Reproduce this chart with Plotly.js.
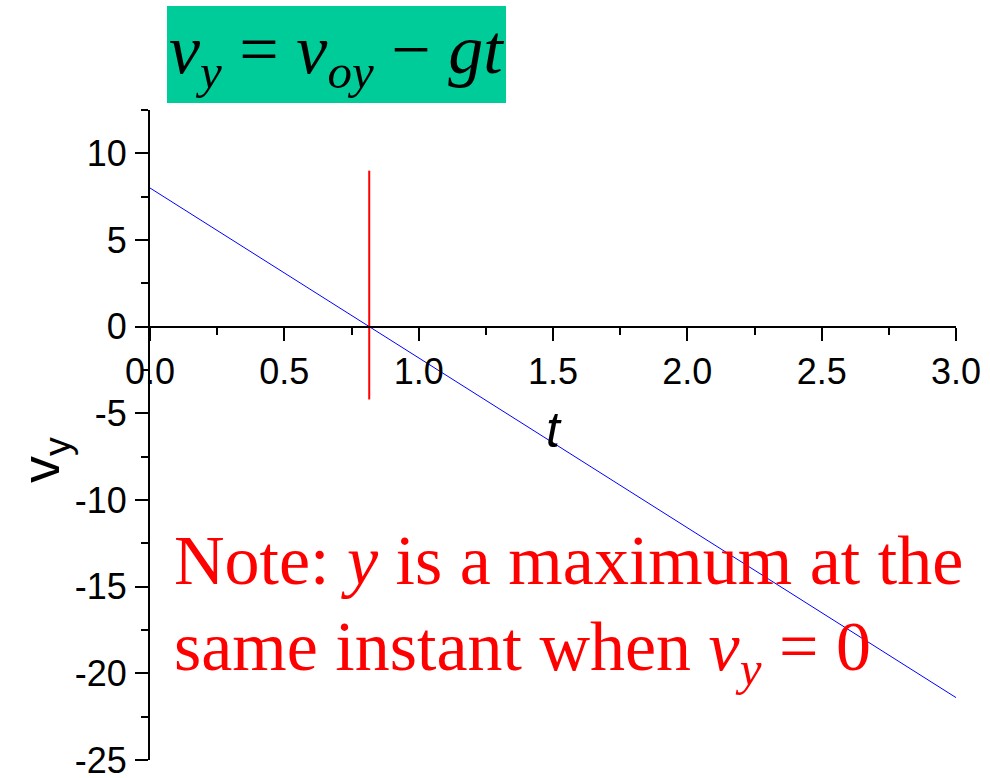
<!DOCTYPE html>
<html>
<head>
<meta charset="utf-8">
<script src="https://cdn.plot.ly/plotly-3.0.1.min.js"></script>
<style>
  html, body { margin: 0; padding: 0; background: #ffffff; }
  #chart { width: 990px; height: 778px; }
</style>
</head>
<body>
<div id="chart"></div>
<script>
// Vertical velocity of a projectile: v_y = v_oy - g t
const timeValues = [0, 3];
const vyValues = [8, -21.4];

// Instant at which v_y reaches zero (t = v_oy / g)
const peakTime = [0.816, 0.816];
const peakMarkerSpan = [9, -4.2];

// Axis ticks
const xTickVals = [0, 0.5, 1, 1.5, 2, 2.5, 3];
const xTickText = ["0.0", "0.5", "1.0", "1.5", "2.0", "2.5", "3.0"];
const yTickVals = [-25, -20, -15, -10, -5, 0, 5, 10];
const yTickText = ["-25", "-20", "-15", "-10", "-5", "0", "5", "10"];

const xRange = [0, 3];
const yRange = [-25, 12.5];

const sans = "Liberation Sans, Arial, Helvetica, sans-serif";
const serif = "Liberation Serif, Times New Roman, Times, serif";

const traces = [
  {
    x: timeValues,
    y: vyValues,
    type: "scatter",
    mode: "lines",
    line: { color: "#0000ff", width: 1 },
    hoverinfo: "skip"
  },
  {
    x: peakTime,
    y: peakMarkerSpan,
    type: "scatter",
    mode: "lines",
    line: { color: "#ff0000", width: 2 },
    hoverinfo: "skip"
  }
];

const axisCommon = {
  showgrid: false,
  zeroline: false,
  showline: true,
  linecolor: "#000000",
  linewidth: 2,
  ticks: "outside",
  ticklen: 13,
  tickwidth: 2,
  tickcolor: "#000000",
  tickfont: { family: sans, size: 36, color: "#000000" },
  tickmode: "array",
  ticklabeloverflow: "allow",
  fixedrange: true
};

// Fraction of the y-domain where v_y = 0, so the t axis sits on the zero line
const zeroPos = (0 - yRange[0]) / (yRange[1] - yRange[0]);

const layout = {
  width: 990,
  height: 778,
  margin: { l: 150, r: 34, t: 110, b: 18 },
  paper_bgcolor: "#ffffff",
  plot_bgcolor: "#ffffff",
  showlegend: false,
  xaxis: Object.assign({}, axisCommon, {
    range: xRange,
    tickvals: xTickVals,
    ticktext: xTickText,
    anchor: "free",
    position: zeroPos,
    ticklabelstandoff: 0,
    minor: { tick0: 0, dtick: 0.25, ticks: "outside", ticklen: 7, tickwidth: 2, tickcolor: "#000000" },
    title: {
      text: "<i>t</i>",
      font: { family: sans, size: 50, color: "#000000" },
      standoff: 20
    },
    automargin: false
  }),
  yaxis: Object.assign({}, axisCommon, {
    range: yRange,
    tickvals: yTickVals,
    ticktext: yTickText,
    ticklabelstandoff: 1,
    minor: { tick0: 0, dtick: 2.5, ticks: "outside", ticklen: 7, tickwidth: 2, tickcolor: "#000000" },
    automargin: false
  }),
  shapes: [
    {
      type: "rect",
      xref: "paper",
      yref: "paper",
      x0: 17 / 806,
      x1: 356 / 806,
      y0: 1 + 7 / 650,
      y1: 1 + 104 / 650,
      fillcolor: "#00cc99",
      line: { width: 0 },
      layer: "below"
    }
  ],
  annotations: [
    {
      // formula banner
      xref: "paper",
      yref: "paper",
      x: 186 / 806,
      y: 1 + 55 / 650,
      xanchor: "center",
      yanchor: "middle",
      showarrow: false,
      text: "<i>v</i><sub><i>y</i></sub> = <i>v</i><sub><i>oy</i></sub> \u2212 <i>gt</i>",
      font: { family: serif, size: 70, color: "#000000" }
    },
    {
      // vertical axis title
      xref: "paper",
      yref: "paper",
      x: -106 / 806,
      y: 1 - (460 - 110) / 650,
      xanchor: "center",
      yanchor: "middle",
      textangle: -90,
      showarrow: false,
      text: "v<sub>y</sub>",
      font: { family: sans, size: 54, color: "#000000" }
    },
    {
      xref: "paper",
      yref: "paper",
      x: 22 / 806,
      y: 1 - (520 - 110) / 650,
      xanchor: "left",
      yanchor: "top",
      showarrow: false,
      text: "Note: <i>y</i> is a maximum at the",
      font: { family: serif, size: 70, color: "#ff0000" }
    },
    {
      xref: "paper",
      yref: "paper",
      x: 22 / 806,
      y: 1 - (606 - 110) / 650,
      xanchor: "left",
      yanchor: "top",
      showarrow: false,
      text: "same instant when <i>v</i><sub><i>y</i></sub> = 0",
      font: { family: serif, size: 70, color: "#ff0000" }
    }
  ]
};

Plotly.newPlot("chart", traces, layout, { staticPlot: true, displayModeBar: false });
</script>
</body>
</html>
